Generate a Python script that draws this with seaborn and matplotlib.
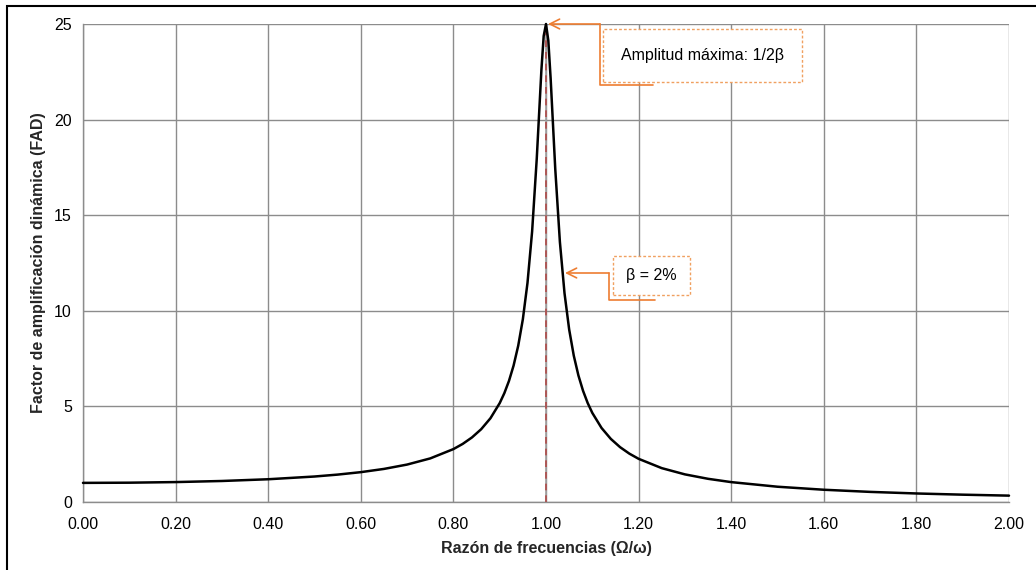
import matplotlib
matplotlib.use("Agg")
import matplotlib.pyplot as plt
import matplotlib.patches as mpatches
from matplotlib.lines import Line2D
import seaborn as sns
import pandas as pd

# Data (beta = 2%)
razon = [0.00, 0.10, 0.20, 0.30, 0.40, 0.50, 0.55, 0.60, 0.65, 0.70, 0.75, 0.80,
         0.82, 0.84, 0.86, 0.88, 0.90, 0.91, 0.92, 0.93, 0.94, 0.95, 0.96, 0.97,
         0.98, 0.99, 0.995, 1.00, 1.005, 1.01, 1.02, 1.03, 1.04, 1.05, 1.06, 1.07,
         1.08, 1.09, 1.10, 1.12, 1.14, 1.16, 1.18, 1.20, 1.25, 1.30, 1.35, 1.40,
         1.50, 1.60, 1.70, 1.80, 1.90, 2.00]
fad = [1.000, 1.010, 1.042, 1.099, 1.190, 1.333, 1.433, 1.561, 1.730, 1.958, 2.280, 2.767,
       3.037, 3.375, 3.807, 4.380, 5.171, 5.691, 6.331, 7.136, 8.175, 9.557, 11.454, 14.145,
       17.946, 22.565, 24.372, 25.000, 24.137, 22.162, 17.416, 13.601, 10.917, 9.028, 7.653, 6.619,
       5.817, 5.179, 4.661, 3.871, 3.300, 2.868, 2.530, 2.259, 1.771, 1.445, 1.213, 1.040,
       0.799, 0.641, 0.529, 0.446, 0.383, 0.333]
x_ticks = [0.0, 0.2, 0.4, 0.6, 0.8, 1.0, 1.2, 1.4, 1.6, 1.8, 2.0]
y_ticks = [0, 5, 10, 15, 20, 25]
x_label = "Razón de frecuencias (Ω/ω)"
y_label = "Factor de amplificación dinámica (FAD)"
anot_max = "Amplitud máxima: 1/2β"
anot_beta = "β = 2%"

sns.set_style("white")
plt.rcParams['font.family'] = ['Liberation Sans', 'DejaVu Sans']

W, H = 1036, 570
fig = plt.figure(figsize=(W / 100, H / 100), dpi=100)
ax = fig.add_axes([83 / W, 1 - 502 / H, (1009 - 83) / W, (502 - 24) / H])

grid_c = "#8c8c8c"
# resonance reference line
ax.axvline(1.0, color="#a0a0a0", lw=1.2, zorder=2)
ax.axvline(1.0, color="#b04a48", lw=1.2, ls=(0, (4, 3)), zorder=3)

df = pd.DataFrame({"r": razon, "fad": fad})
sns.lineplot(data=df, x="r", y="fad", color="black", lw=1.8, ax=ax, zorder=4)
for l in ax.lines:
    l.set_clip_on(False)

ax.set_xlim(0, 2)
ax.set_ylim(0, 25)
ax.set_xticks(x_ticks)
ax.set_xticklabels([f"{v:.2f}" for v in x_ticks])
ax.set_yticks(y_ticks)
ax.grid(True, color=grid_c, lw=1.0, zorder=0)
ax.set_axisbelow(True)
for s in ["top", "right"]:
    ax.spines[s].set_visible(False)
for s in ["left", "bottom"]:
    ax.spines[s].set_color(grid_c)
    ax.spines[s].set_linewidth(1.0)
ax.tick_params(axis="both", direction="out", length=5, width=1.0, color=grid_c,
               labelsize=11.5, labelcolor="black", pad=3)
ax.tick_params(axis="x", pad=6)
ax.set_xlabel(x_label, fontsize=11.5, fontweight="bold", labelpad=6)
ax.set_ylabel(y_label, fontsize=11.5, fontweight="bold", labelpad=6)

orange = "#ED7D31"
box_c = "#F0A060"


def px(x, y):
    return (x / W, 1 - y / H)


def callout(tip, corner_x, bottom_y, end_x, box, text):
    # arrow head + horizontal part
    ax.annotate("", xy=px(*tip), xycoords=fig.transFigure,
                xytext=px(corner_x, tip[1]), textcoords=fig.transFigure,
                arrowprops=dict(arrowstyle="->,head_length=0.7,head_width=0.35",
                                color=orange, lw=1.2, shrinkA=0, shrinkB=0))
    xs = [corner_x, corner_x, end_x]
    ys = [tip[1], bottom_y, bottom_y]
    fig.add_artist(Line2D([x / W for x in xs], [1 - y / H for y in ys],
                          color=orange, lw=1.2, transform=fig.transFigure))
    x0, y0, x1, y1 = box
    fig.add_artist(mpatches.Rectangle(px(x0, y1), (x1 - x0) / W, (y1 - y0) / H,
                                      transform=fig.transFigure, fill=True,
                                      facecolor="white", edgecolor=box_c,
                                      lw=1.0, ls=(0, (2, 1.5)), zorder=5))
    fig.text((x0 + x1) / 2 / W, 1 - (y0 + y1) / 2 / H, text, ha="center",
             va="center", fontsize=11.5, color="black", zorder=6)


callout((548, 24), 600, 85, 653, (603, 29, 802, 82), anot_max)
callout((565, 273), 609, 300, 655, (613, 256, 690, 295), anot_beta)

# outer border of the chart
fig.add_artist(mpatches.Rectangle((7 / W, -0.1), 1.2, (H - 6) / H + 0.1,
                                  transform=fig.transFigure, fill=False,
                                  edgecolor="black", lw=1.5))

fig.savefig("out.png", dpi=100)
